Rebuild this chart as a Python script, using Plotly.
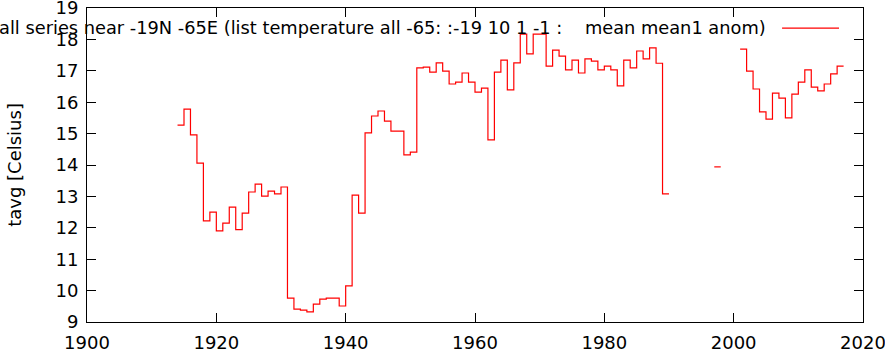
import plotly.graph_objects as go

years = [1914, 1915, 1916, 1917, 1918, 1919, 1920, 1921, 1922, 1923, 1924, 1925,
         1926, 1927, 1928, 1929, 1930, 1931, 1932, 1933, 1934, 1935, 1936, 1937,
         1938, 1939, 1940, 1941, 1942, 1943, 1944, 1945, 1946, 1947, 1948, 1949,
         1950, 1951, 1952, 1953, 1954, 1955, 1956, 1957, 1958, 1959, 1960, 1961,
         1962, 1963, 1964, 1965, 1966, 1967, 1968, 1969, 1970, 1971, 1972, 1973,
         1974, 1975, 1976, 1977, 1978, 1979, 1980, 1981, 1982, 1983, 1984, 1985,
         1986, 1987, 1988, 1989, 1997, 2001, 2002, 2003, 2004, 2005, 2006, 2007,
         2008, 2009, 2010, 2011, 2012, 2013, 2014, 2015, 2016]
tavg = [15.27, 15.78, 14.96, 14.06, 12.22, 12.50, 11.90, 12.15, 12.66, 11.94, 12.47, 13.14,
        13.39, 13.01, 13.17, 13.08, 13.30, 9.76, 9.41, 9.38, 9.32, 9.57, 9.73, 9.76,
        9.76, 9.51, 10.15, 13.04, 12.47, 15.02, 15.56, 15.72, 15.40, 15.08, 15.08, 14.32,
        14.41, 17.09, 17.12, 16.96, 17.25, 16.99, 16.58, 16.64, 16.93, 16.64, 16.32, 16.45,
        14.80, 16.96, 17.34, 16.39, 17.25, 18.17, 17.54, 18.17, 18.17, 17.15, 17.66, 17.47,
        17.03, 17.34, 16.93, 17.38, 17.31, 17.03, 17.15, 17.03, 16.52, 17.34, 17.09, 17.63,
        17.38, 17.73, 17.24, 13.08, 13.94, 17.69, 16.99, 16.42, 15.69, 15.46, 16.29, 16.13,
        15.50, 16.26, 16.64, 17.03, 16.48, 16.36, 16.58, 16.90, 17.15]

x_ticks = [1900, 1920, 1940, 1960, 1980, 2000, 2020]
y_ticks = [9, 10, 11, 12, 13, 14, 15, 16, 17, 18, 19]
legend_text = "all series near -19N -65E (list temperature all -65: :-19 10 1 -1 :\u00a0\u00a0\u00a0 mean mean1 anom)"
y_title = "tavg [Celsius]"

# build step path: each year's value spans [year, year+1]; gaps break the line
xs, ys = [], []
for i, (yr, v) in enumerate(zip(years, tavg)):
    xs.append(yr)
    ys.append(v)
    nxt = years[i + 1] if i + 1 < len(years) else None
    if nxt != yr + 1:
        xs.append(yr + 1)
        ys.append(v)
        xs.append(yr + 1)
        ys.append(None)

FONT = "DejaVu Sans"
fig = go.Figure()
fig.add_trace(go.Scatter(x=xs, y=ys, mode="lines", line=dict(color="#ff0000", width=1.2, shape="hv"),
                         connectgaps=False, showlegend=False, hoverinfo="skip"))

axis_common = dict(ticks="inside", ticklen=9, tickwidth=1, tickcolor="black", showline=True,
                   linecolor="black", linewidth=1, mirror="allticks", showgrid=False,
                   zeroline=False, automargin=False, ticklabeloverflow="allow",
                   tickfont=dict(family=FONT, size=18, color="black"))

fig.update_layout(
    width=885, height=351,
    margin=dict(l=87, r=22, t=8, b=29),
    paper_bgcolor="white", plot_bgcolor="white",
    font=dict(family=FONT, size=18, color="black"),
    xaxis=dict(range=[1900, 2020], tickvals=x_ticks, ticklabelstandoff=4, **axis_common),
    yaxis=dict(range=[9, 19], tickvals=y_ticks, ticklabelstandoff=4, **axis_common),
)

fig.add_annotation(x=-0.0943, y=0.5, xref="paper", yref="paper", text=y_title, textangle=-90,
                   showarrow=False, xanchor="center", yanchor="middle",
                   font=dict(family=FONT, size=18, color="black"))
fig.add_annotation(x=0.8773, y=0.937, xref="paper", yref="paper", text=legend_text,
                   showarrow=False, xanchor="right", yanchor="middle",
                   font=dict(family=FONT, size=17.8, color="black"))
fig.add_shape(type="line", xref="paper", yref="paper", x0=0.8957, x1=0.9691, y0=0.936, y1=0.936,
              line=dict(color="#ff0000", width=1.2))

fig.write_html("out.html")
